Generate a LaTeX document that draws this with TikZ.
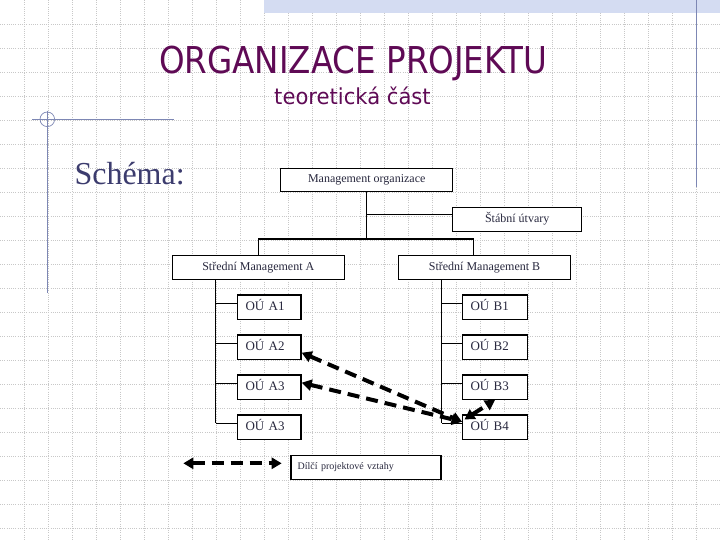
\documentclass[tikz,border=0pt]{standalone}
\usepackage{fontspec}
\setmainfont{Liberation Serif}
\newfontfamily\sansdv{DejaVu Sans}
\usetikzlibrary{arrows.meta}
\definecolor{titlec}{RGB}{95,10,85}
\definecolor{schc}{RGB}{60,60,110}
\definecolor{decoc}{RGB}{125,135,180}
\definecolor{txtc}{RGB}{40,40,62}
\definecolor{bandc}{RGB}{212,220,242}
\definecolor{gridc}{RGB}{200,200,200}
\begin{document}
\begin{tikzpicture}[x=1pt,y=-1pt,
  gridl/.style={gridc,line width=0.7pt,dash pattern=on 1pt off 1.2pt},
  deco/.style={decoc,line width=1.3pt},
  conn/.style={black,line width=1.2pt},
  orgbox/.style={draw=black,line width=1.2pt,fill=white,inner sep=0pt,text=txtc,
    font=\fontsize{12}{14}\selectfont,text height=8pt,text depth=2pt,minimum height=23.6pt},
  oubox/.style={draw=black,line width=1.2pt,fill=white,inner ysep=0pt,inner xsep=8pt,text=txtc,
    font=\fontsize{13}{15}\selectfont,text height=8.5pt,text depth=1pt,
    text width=47.5pt,align=left,minimum height=24.3pt},
  legbox/.style={draw=black,line width=1.2pt,fill=white,inner ysep=0pt,inner xsep=6.7pt,text=txtc,
    font=\fontsize{10}{12}\selectfont,text height=7pt,text depth=3pt,
    text width=136.6pt,align=left,minimum height=24pt},
  darr/.style={black,line width=4pt,dash pattern=on 12pt off 7pt,
    {Triangle[length=10pt,width=11pt]}-{Triangle[length=10pt,width=11pt]}}
]
\useasboundingbox (0,0) rectangle (720,540);
\fill[white] (0,0) rectangle (720,540);
% background grid
\foreach \i in {1,...,29} \draw[gridl] (24*\i,0) -- (24*\i,540);
\foreach \j in {1,...,22} \draw[gridl] (0,24*\j) -- (720,24*\j);
% top band
\fill[bandc] (264,0) rectangle (720,12.7);
% decorative lines
\draw[deco] (696.7,0) -- (696.7,187);
\draw[deco] (32.3,119.3) -- (174,119.3);
\draw[deco] (47.3,110.7) -- (47.3,293);
\draw[decoc,line width=0.7pt] (47.3,119.3) circle (7.3);
% titles
\node[anchor=base,text=titlec,inner sep=0pt] (title) at (353,74)
  {\scalebox{0.88}[1]{\sansdv\fontsize{37}{40}\selectfont ORGANIZACE PROJEKTU}};
\node[anchor=base,text=titlec,inner sep=0pt] (sub) at (352.5,105)
  {\scalebox{0.96}[1]{\sansdv\fontsize{22}{26}\selectfont teoretická část}};
\node[anchor=base west,text=schc,inner sep=0pt,font=\fontsize{32}{36}\selectfont] (sch) at (74.3,185) {Schéma:};
% org chart boxes
\node[orgbox,minimum width=172pt] (mo) at (366.7,180) {Management organizace};
\node[orgbox,minimum width=129pt,minimum height=24pt] (sa) at (517.2,219.7) {Štábní útvary};
\node[orgbox,minimum width=172pt] (sma) at (258.3,267.5) {Střední Management A};
\node[orgbox,minimum width=172.4pt] (smb) at (484.5,267.5) {Střední Management B};
\node[oubox] (oa1) at (269.3,307.2) {OÚ A1};
\node[oubox] (oa2) at (269.3,347.2) {OÚ A2};
\node[oubox] (oa3) at (269.3,387.2) {OÚ A3};
\node[oubox] (oa4) at (269.3,427.2) {OÚ A3};
\node[oubox,text width=48.8pt] (ob1) at (495,307.2) {OÚ B1};
\node[oubox,text width=48.8pt] (ob2) at (495,347.2) {OÚ B2};
\node[oubox,text width=48.8pt] (ob3) at (495,387.2) {OÚ B3};
\node[oubox,text width=48.8pt] (ob4) at (495,427.2) {OÚ B4};
\node[legbox] (leg) at (366,467.4) {Dílčí projektové vztahy};
% connectors
\coordinate (bar) at (366.7,239);
\coordinate (st) at (366.7,214.3);
\coordinate (jB) at (473.3,255.7);
\coordinate (vA) at (215.7,279.3);
\coordinate (vB) at (441.7,279.3);
\draw[conn] (mo.south) -- (bar);
\draw[conn] (st) -- (st -| sa.west);
\draw[conn] (sma.north) |- (bar) -| (jB);
\foreach \n in {1,2,3,4}{
  \path ([yshift=4pt]oa\n.west) coordinate (ca\n);
  \path ([yshift=4pt]ob\n.west) coordinate (cb\n);
  \draw[conn] (ca\n) -- (ca\n -| vA);
  \draw[conn] (cb\n) -- (cb\n -| vB);
}
\draw[conn] (vA) -- (ca4 -| vA);
\draw[conn] (vB) -- (cb4 -| vB);
% project relations
\draw[darr] ([yshift=-5.5pt]oa2.east) -- ([yshift=5.5pt]ob4.west);
\draw[darr] ([yshift=4.5pt]oa3.east) -- ([yshift=5.5pt]ob4.west);
\draw[darr] ([shift={(2.5pt,-5pt)}]ob4.north west) -- (ob3.south);
% legend arrow
\coordinate (l1) at (183.3,463.3);
\coordinate (l2) at (281.7,463.3);
\draw[darr] (l1) -- (l2);
\end{tikzpicture}
\end{document}
